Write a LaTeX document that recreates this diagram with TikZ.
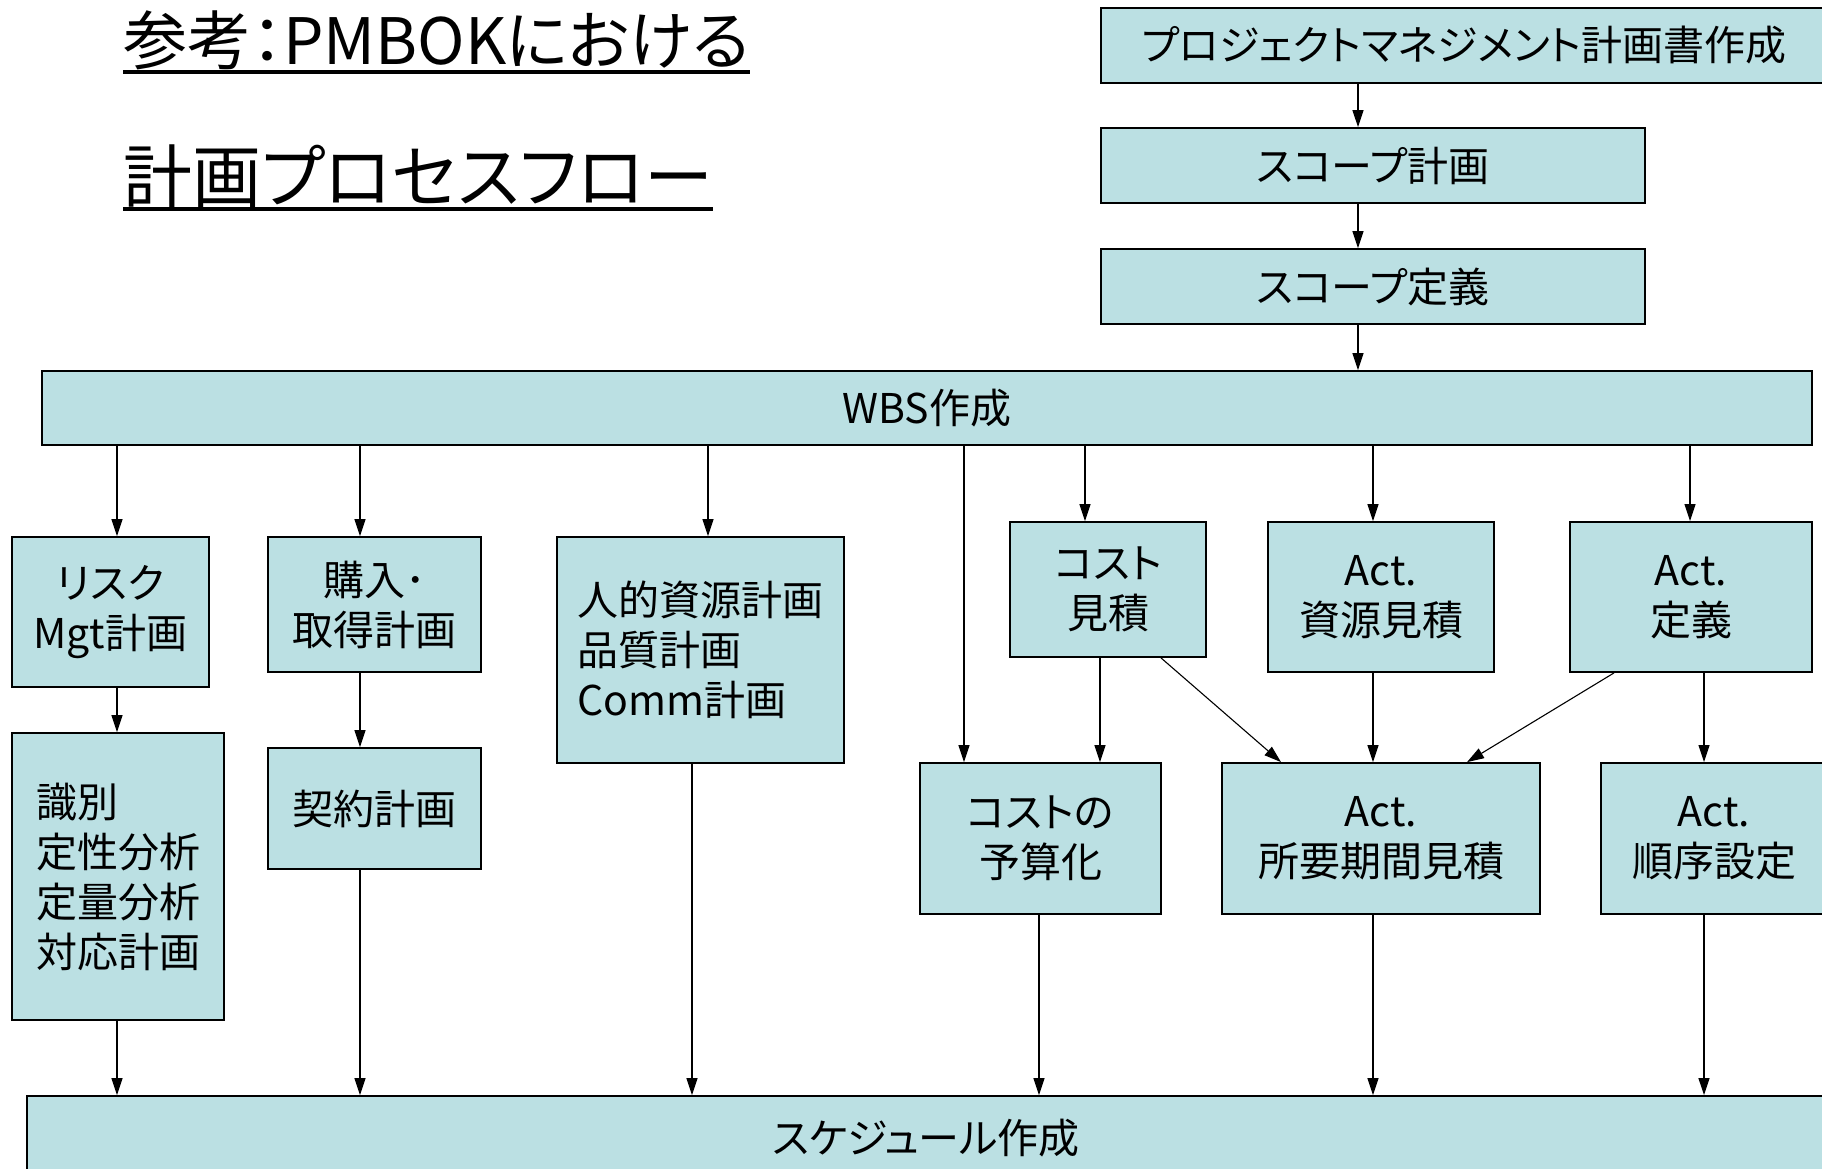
\documentclass[tikz,border=0pt]{standalone}
\usepackage{fontspec}
\setmainfont{Noto Sans CJK JP}[RawFeature={+palt}]
\usetikzlibrary{arrows.meta}
\definecolor{boxfill}{RGB}{187,224,227}
\begin{document}
\begin{tikzpicture}[x=1pt,y=-1pt,
  box/.style={draw=black, line width=1.8pt, fill=boxfill, inner sep=0pt,
    font=\fontsize{41}{50}\selectfont, align=center},
  lbox/.style={box, align=left},
  arr/.style={line width=1.1pt, -{Triangle[length=17pt,width=11pt]}},
  title/.style={anchor=base west, inner sep=0pt}]
\clip (0,0) rectangle (1822,1168);
\fill[white] (0,0) rectangle (1822,1168);

% title
\node[title, font=\fontsize{64}{64}\selectfont] (t1) at (123,64) {参考：PMBOKにおける};
\node[title, font=\fontsize{69}{69}\selectfont] (t2) at (123,202) {計画プロセスフロー};
\draw[line width=3.5pt] ([yshift=-8pt]t1.base west) -- ([yshift=-8pt]t1.base east);
\draw[line width=3.5pt] ([yshift=-7pt]t2.base west) -- ([yshift=-7pt]t2.base east);

% top chain
\node[box, minimum width=726pt, minimum height=75pt] (pm) at (1464,45.5) {プロジェクトマネジメント計画書作成};
\node[box, minimum width=544pt, minimum height=75pt] (sp) at (1373,165.5) {スコープ計画};
\node[box, minimum width=544pt, minimum height=75pt] (sd) at (1373,286.5) {スコープ定義};
\node[box, minimum width=1770pt, minimum height=74pt] (wbs) at (927,408) {WBS作成};

% row 2
\node[box, minimum width=197pt, minimum height=150pt] (risk) at (110.5,612) {リスク\\Mgt計画};
\node[box, minimum width=213pt, minimum height=135pt] (buy) at (374.5,604.5) {購入･\\取得計画};
\node[lbox, minimum width=287pt, minimum height=226pt] (hr) at (700.5,650) {人的資源計画\\品質計画\\Comm計画};
\node[box, minimum width=196pt, minimum height=135pt] (ce) at (1108,589.5) {コスト\\見積};
\node[box, minimum width=226pt, minimum height=150pt] (ar) at (1381,597) {Act.\\資源見積};
\node[box, minimum width=242pt, minimum height=150pt] (ad) at (1691,597) {Act.\\定義};

% row 3
\node[lbox, minimum width=212pt, minimum height=287pt] (rid) at (118,876.5) {識別\\定性分析\\定量分析\\対応計画};
\node[box, minimum width=213pt, minimum height=121pt] (con) at (374.5,808.5) {契約計画};
\node[box, minimum width=241pt, minimum height=151pt] (cb) at (1040.5,838.5) {コストの\\予算化};
\node[box, minimum width=318pt, minimum height=151pt] (ade) at (1381,838.5) {Act.\\所要期間見積};
\node[box, minimum width=226pt, minimum height=151pt] (aseq) at (1714,838.5) {Act.\\順序設定};

% bottom
\node[box, minimum width=1798pt, minimum height=84pt] (sch) at (926,1138) {スケジュール作成};

% column coordinates
\coordinate (k0) at (1358,0);
\coordinate (k1) at (117,0);
\coordinate (k2) at (360,0);
\coordinate (k3) at (708,0);
\coordinate (k3b) at (692,0);
\coordinate (k4) at (964,0);
\coordinate (k5) at (1085,0);
\coordinate (k5b) at (1100,0);
\coordinate (k5c) at (1039,0);
\coordinate (k6) at (1373,0);
\coordinate (k7) at (1690,0);
\coordinate (k7b) at (1704,0);
\coordinate (d1s) at (1161,0);
\coordinate (d1e) at (1281,0);
\coordinate (d2s) at (1614,0);
\coordinate (d2e) at (1467,0);

% top arrows
\draw[arr] (pm.south -| k0) -- (sp.north -| k0);
\draw[arr] (sp.south -| k0) -- (sd.north -| k0);
\draw[arr] (sd.south -| k0) -- (wbs.north -| k0);

% from WBS
\draw[arr] (wbs.south -| k1) -- (risk.north -| k1);
\draw[arr] (wbs.south -| k2) -- (buy.north -| k2);
\draw[arr] (wbs.south -| k3) -- (hr.north -| k3);
\draw[arr] (wbs.south -| k4) -- (cb.north -| k4);
\draw[arr] (wbs.south -| k5) -- (ce.north -| k5);
\draw[arr] (wbs.south -| k6) -- (ar.north -| k6);
\draw[arr] (wbs.south -| k7) -- (ad.north -| k7);

% middle
\draw[arr] (risk.south -| k1) -- (rid.north -| k1);
\draw[arr] (buy.south -| k2) -- (con.north -| k2);
\draw[arr] (ce.south -| k5b) -- (cb.north -| k5b);
\draw[arr] (ce.south -| d1s) -- (ade.north -| d1e);
\draw[arr] (ar.south -| k6) -- (ade.north -| k6);
\draw[arr] (ad.south -| d2s) -- (ade.north -| d2e);
\draw[arr] (ad.south -| k7b) -- (aseq.north -| k7b);

% to schedule
\draw[arr] (rid.south -| k1) -- (sch.north -| k1);
\draw[arr] (con.south -| k2) -- (sch.north -| k2);
\draw[arr] (hr.south -| k3b) -- (sch.north -| k3b);
\draw[arr] (cb.south -| k5c) -- (sch.north -| k5c);
\draw[arr] (ade.south -| k6) -- (sch.north -| k6);
\draw[arr] (aseq.south -| k7b) -- (sch.north -| k7b);
\end{tikzpicture}
\end{document}
